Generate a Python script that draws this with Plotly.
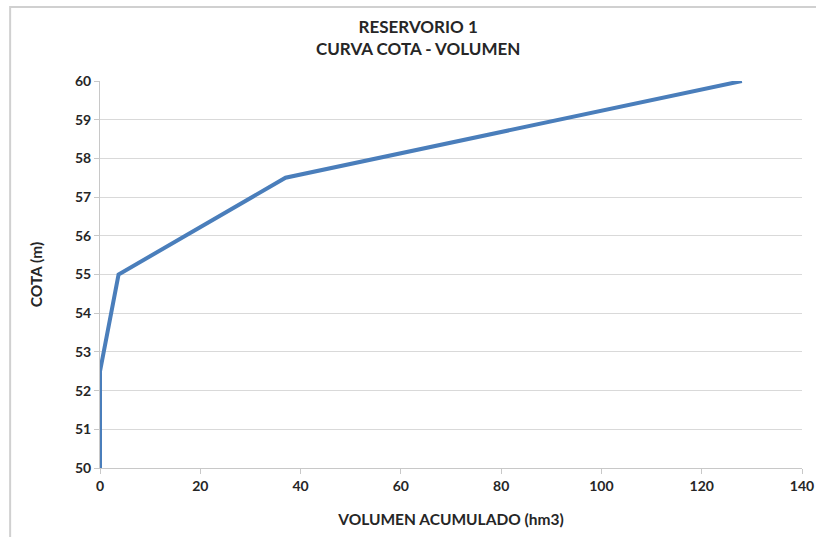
import plotly.graph_objects as go

# curva cota - volumen, reservorio 1
volumen = [0, 0, 3.7, 37, 128]
cota = [50, 52.5, 55, 57.5, 60]

x_ticks = [0, 20, 40, 60, 80, 100, 120, 140]
y_ticks = [50, 51, 52, 53, 54, 55, 56, 57, 58, 59, 60]

FONT = "Lato"
TXT = "#262626"

fig = go.Figure()
fig.add_trace(
    go.Scatter(
        x=volumen,
        y=cota,
        mode="lines",
        line=dict(color="#4a7ebb", width=4),
        hoverinfo="x+y",
    )
)

fig.update_layout(
    width=816,
    height=537,
    paper_bgcolor="white",
    plot_bgcolor="white",
    showlegend=False,
    margin=dict(l=100, r=14, t=81, b=69, autoexpand=False),
    font=dict(family=FONT, color=TXT),
)

# titulo (dos lineas) como anotacion para fijar su posicion
fig.add_annotation(
    text="<b>RESERVORIO 1<br>CURVA COTA - VOLUMEN</b>",
    xref="paper", yref="paper",
    x=0.453, y=1.052,
    xanchor="center", yanchor="bottom",
    showarrow=False,
    font=dict(family=FONT, size=17, color=TXT),
)

fig.update_xaxes(
    range=[0, 140],
    tickvals=x_ticks,
    ticktext=[f"<b>{v}</b>" for v in x_ticks],
    tickfont=dict(size=14, color=TXT),
    showgrid=False,
    zeroline=False,
    showline=True, linecolor="#c8c8c8", linewidth=1,
    ticks="outside", ticklen=5, tickcolor="#c8c8c8",
    title=dict(text="<b>VOLUMEN ACUMULADO (hm3)</b>", font=dict(size=15.5, color=TXT), standoff=21),
)
fig.update_yaxes(
    range=[50, 60],
    tickvals=y_ticks,
    ticktext=[f"<b>{v}</b>" for v in y_ticks],
    tickfont=dict(size=14, color=TXT),
    showgrid=True, gridcolor="#d9d9d9", gridwidth=1,
    zeroline=False,
    showline=True, linecolor="#c8c8c8", linewidth=1,
    ticks="outside", ticklen=5, tickcolor="#c8c8c8",
    title=dict(text="<b>COTA (m)</b>", font=dict(size=15.5, color=TXT), standoff=28),
)

# marco exterior del grafico
fig.add_shape(
    type="rect", xref="paper", yref="paper",
    x0=-0.128, x1=1.03, y0=-0.2, y1=1.191,
    line=dict(color="#d0d0d0", width=2),
)

# sin margen del body para que el grafico ocupe la ventana entera
fig.write_html(
    "out.html",
    config={"displayModeBar": False},
    post_script="document.body.style.margin='0';",
)
